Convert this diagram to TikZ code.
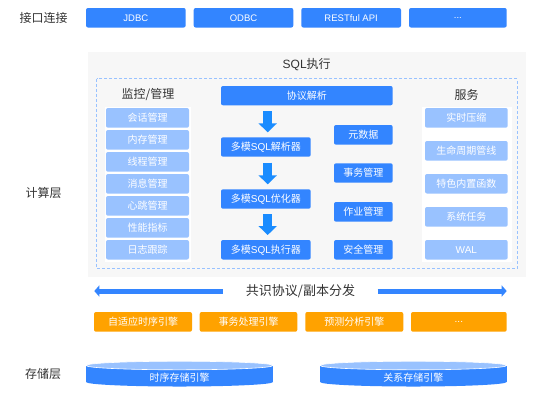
\documentclass[tikz,border=0pt]{standalone}
\usepackage{fontspec}
\setmainfont{Noto Sans CJK SC}
\newfontfamily\lat{Liberation Sans}
\usetikzlibrary{arrows.meta}
\definecolor{mblue}{HTML}{3385FF}
\definecolor{lblue}{HTML}{99C2FF}
\definecolor{ablue}{HTML}{1A8CFF}
\definecolor{morange}{HTML}{FFA200}
\definecolor{pgray}{HTML}{F7F7F7}
\definecolor{dtext}{HTML}{333333}
\tikzset{
  base/.style={inner sep=0pt, outer sep=0pt, rounded corners=2pt, text=white, font=\fontsize{10}{12}\selectfont},
  bluebox/.style={base, fill=mblue},
  lightbox/.style={base, fill=lblue},
  orangebox/.style={base, fill=morange},
  lbl/.style={text=dtext, font=\fontsize{12}{14}\selectfont, inner sep=0pt},
  downarr/.style={draw=ablue, line width=9pt, -{Triangle[width=18pt,length=9pt]}},
  harr/.style={draw=mblue, line width=5pt, -{Triangle[width=11pt,length=5pt]}},
}
\newcommand\bx[7]{\node[#1, minimum width={(#4-#2)*1pt}, minimum height={(#5-#3)*1pt}] (#6) at ({(#2+#4)/2},{(#3+#5)/2}) {#7};}
\begin{document}
\begin{tikzpicture}[x=1pt,y=-1pt]
\useasboundingbox (0,0) rectangle (534,392);
\fill[white] (0,0) rectangle (534,392);
% layer labels
\node[lbl] (l1) at (43.5,18) {接口连接};
\node[lbl] (l2) at (43.5,193) {计算层};
\node[lbl] (l3) at (43,374) {存储层};
% top row
\bx{bluebox}{86}{8}{185.7}{27.5}{jdbc}{\lat\fontsize{9.5}{11}\selectfont JDBC}
\bx{bluebox}{193.7}{8}{293.3}{27.5}{odbc}{\lat\fontsize{9.5}{11}\selectfont ODBC}
\bx{bluebox}{301.3}{8}{401}{27.5}{rest}{\lat\fontsize{9.5}{11}\selectfont RESTful API}
\bx{bluebox}{409}{8}{506.7}{27.5}{more1}{\lat\fontsize{9.5}{11}\selectfont ...}
% compute panel
\fill[pgray] (88,52) rectangle (526,277);
\node[lbl] (sqltitle) at (306.7,64.5) {{\lat SQL}执行};
\draw[lblue, line width=1pt, dash pattern=on 3pt off 2pt] (96.7,78.7) rectangle (517.3,268.3);
\fill[white] (104.6,106.5) rectangle (190.6,261.8);
\fill[white] (421.6,106.5) rectangle (511.6,261.8);
\node[lbl] (mon) at (148,94.5) {监控/管理};
\node[lbl] (svc) at (466.5,95) {服务};
% left column
\bx{lightbox}{106}{108}{189}{127.7}{m1}{会话管理}
\bx{lightbox}{106}{130}{189}{149.7}{m2}{内存管理}
\bx{lightbox}{106}{152}{189}{171.7}{m3}{线程管理}
\bx{lightbox}{106}{174}{189}{193.7}{m4}{消息管理}
\bx{lightbox}{106}{196}{189}{215.7}{m5}{心跳管理}
\bx{lightbox}{106}{218}{189}{237.7}{m6}{性能指标}
\bx{lightbox}{106}{240}{189}{259.5}{m7}{日志跟踪}
% center column
\bx{bluebox}{221}{86}{392.7}{105.3}{proto}{协议解析}
\bx{bluebox}{221}{137.3}{310.7}{156.7}{parser}{多模{\lat SQL}解析器}
\bx{bluebox}{221}{189.3}{310.7}{208.7}{optim}{多模{\lat SQL}优化器}
\bx{bluebox}{221}{240}{310.7}{259.5}{exec}{多模{\lat SQL}执行器}
\coordinate (ax) at (267.7,0);
\draw[downarr, shorten <=5.7pt, shorten >=5pt] (proto.south -| ax) -- (parser.north -| ax);
\draw[downarr, shorten <=6pt, shorten >=5pt] (parser.south -| ax) -- (optim.north -| ax);
\draw[downarr, shorten <=5.3pt, shorten >=5pt] (optim.south -| ax) -- (exec.north -| ax);
% middle right column
\bx{bluebox}{334}{125}{392.7}{144.7}{meta}{元数据}
\bx{bluebox}{334}{163.3}{392.7}{182.7}{txn}{事务管理}
\bx{bluebox}{334}{202}{392.7}{221.7}{job}{作业管理}
\bx{bluebox}{334}{240}{392.7}{259.5}{sec}{安全管理}
% right column
\bx{lightbox}{425}{108}{507.7}{127.7}{s1}{实时压缩}
\bx{lightbox}{425}{141}{507.7}{160.7}{s2}{生命周期管线}
\bx{lightbox}{425}{174}{507.7}{193.5}{s3}{特色内置函数}
\bx{lightbox}{425}{207}{507.7}{226.7}{s4}{系统任务}
\bx{lightbox}{425}{240}{507.7}{259.5}{s5}{\lat WAL}
% consensus
\node[lbl, font=\fontsize{13}{15}\selectfont] (cons) at (300.5,291) {共识协议/副本分发};
\coordinate (cl) at (94.3,291);
\coordinate (cr) at (506.7,291);
\draw[harr] (222.7,291) -- (cl);
\draw[harr] (377.7,291) -- (cr);
% engines
\bx{orangebox}{94}{312}{192}{331.7}{e1}{自适应时序引擎}
\bx{orangebox}{199.7}{312}{297.3}{331.7}{e2}{事务处理引擎}
\bx{orangebox}{305.3}{312}{403.3}{331.7}{e3}{预测分析引擎}
\bx{orangebox}{411}{312}{506.7}{331.7}{e4}{\lat ...}
% storage cylinders
\fill[mblue] (86,365.5) rectangle (273,382);
\fill[mblue] (179.5,382) ellipse [x radius=93.5, y radius=4.5];
\filldraw[fill=lblue, draw=white, line width=0.6pt] (179.5,365.5) ellipse [x radius=93.5, y radius=4.3];
\node[text=white, font=\fontsize{10}{12}\selectfont, inner sep=0pt] (st1) at (179.5,378) {时序存储引擎};
\fill[mblue] (320,365.5) rectangle (506.7,382);
\fill[mblue] (413.35,382) ellipse [x radius=93.35, y radius=4.5];
\filldraw[fill=lblue, draw=white, line width=0.6pt] (413.35,365.5) ellipse [x radius=93.35, y radius=4.3];
\node[text=white, font=\fontsize{10}{12}\selectfont, inner sep=0pt] (st2) at (413.35,378) {关系存储引擎};
\end{tikzpicture}
\end{document}
